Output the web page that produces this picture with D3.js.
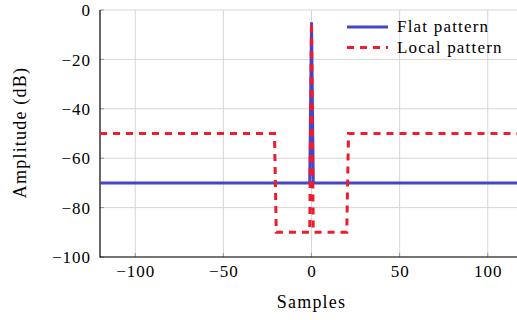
<!DOCTYPE html>
<html><head><meta charset="utf-8">
<script src="https://cdn.jsdelivr.net/npm/d3@7"></script>
<style>body{margin:0;background:#fff}svg{display:block}</style>
</head><body>
<script>
const flatX = [-120, -1, 0, 1, 120];
const flatY = [-70, -70, -5, -70, -70];
const localX = [-120, -21, -20, -1, 0, 1, 20, 21, 120];
const localY = [-50, -50, -90, -90, -5, -90, -90, -50, -50];
const xTicks = [-100, -50, 0, 50, 100];
const yTicks = [-100, -80, -60, -40, -20, 0];
const seriesNames = ["Flat pattern", "Local pattern"];

const W = 517, H = 320;
const font = "'Liberation Serif', 'DejaVu Serif', serif";
const svg = d3.select("body").append("svg").attr("width", W).attr("height", H);
const x = d3.scaleLinear().domain([-120, 120]).range([100, 523]);
const y = d3.scaleLinear().domain([-100, 0]).range([257, 10]);
const fmt = d => d < 0 ? "\u2212" + Math.abs(d) : d;

svg.append("clipPath").attr("id", "clip").append("rect")
  .attr("x", 100).attr("y", 0).attr("width", 423).attr("height", 258);

// grid
const grid = svg.append("g").attr("stroke", "#d6d6d6").attr("stroke-width", 1);
xTicks.forEach(t => grid.append("line").attr("x1", x(t)).attr("x2", x(t)).attr("y1", y(0)).attr("y2", y(-100)));
yTicks.forEach(t => grid.append("line").attr("x1", x(-120)).attr("x2", x(120)).attr("y1", y(t)).attr("y2", y(t)));

// axes
const xAxis = svg.append("g").attr("transform", `translate(0,${y(-100)})`)
  .call(d3.axisBottom(x).tickValues(xTicks).tickSize(0).tickPadding(0).tickFormat(fmt));
xAxis.select(".domain").remove();
xAxis.selectAll("text").attr("font-family", font).attr("font-size", 17).attr("fill", "#000")
  .attr("letter-spacing", 1).attr("dy", null).attr("y", 20);
xTicks.forEach(t => svg.append("line").attr("x1", x(t)).attr("x2", x(t)).attr("y1", y(-100)).attr("y2", y(-100) - 4).attr("stroke", "#999"));

const yAxis = svg.append("g").attr("transform", `translate(${x(-120)},0)`)
  .call(d3.axisLeft(y).tickValues(yTicks).tickSize(0).tickPadding(9).tickFormat(fmt));
yAxis.select(".domain").remove();
yAxis.selectAll("text").attr("font-family", font).attr("font-size", 17).attr("fill", "#000")
  .attr("letter-spacing", 1).attr("dy", "0.34em");
yTicks.forEach(t => svg.append("line").attr("x1", x(-120)).attr("x2", x(-120) + 4).attr("y1", y(t)).attr("y2", y(t)).attr("stroke", "#999"));

svg.append("line").attr("x1", x(-120)).attr("x2", x(-120)).attr("y1", y(0)).attr("y2", y(-100) + 0.5).attr("stroke", "#000").attr("stroke-width", 1.2);
svg.append("line").attr("x1", x(-120)).attr("x2", x(120)).attr("y1", y(-100)).attr("y2", y(-100)).attr("stroke", "#000").attr("stroke-width", 1.2);

// lines
const line = d3.line().x(d => x(d[0])).y(d => y(d[1]));
const plot = svg.append("g").attr("clip-path", "url(#clip)");
plot.append("path").datum(flatX.map((v, i) => [v, flatY[i]])).attr("d", line)
  .attr("fill", "none").attr("stroke", "#4545cc").attr("stroke-width", 3);
plot.append("path").datum(localX.map((v, i) => [v, localY[i]])).attr("d", line)
  .attr("fill", "none").attr("stroke", "#ee1c2c").attr("stroke-width", 3)
  .attr("stroke-dasharray", "7,6");

// legend
const leg = svg.append("g");
[["#4545cc", null], ["#ee1c2c", "7,6"]].forEach((s, i) => {
  const yy = 27 + i * 20.5;
  leg.append("line").attr("x1", 347).attr("x2", 388).attr("y1", yy).attr("y2", yy)
    .attr("stroke", s[0]).attr("stroke-width", 3).attr("stroke-dasharray", s[1]);
  leg.append("text").attr("x", 397).attr("y", yy + 5).text(seriesNames[i])
    .attr("font-family", font).attr("font-size", 17).attr("letter-spacing", 1.2);
});

// axis labels
svg.append("text").attr("x", x(0)).attr("y", 308).attr("text-anchor", "middle")
  .attr("font-family", font).attr("font-size", 18).attr("letter-spacing", 1.2).text("Samples");
svg.append("text").attr("transform", `translate(26,${y(-50) - 1}) rotate(-90)`).attr("text-anchor", "middle")
  .attr("font-family", font).attr("font-size", 18).attr("letter-spacing", 1.2).text("Amplitude (dB)");
</script>
</body></html>
